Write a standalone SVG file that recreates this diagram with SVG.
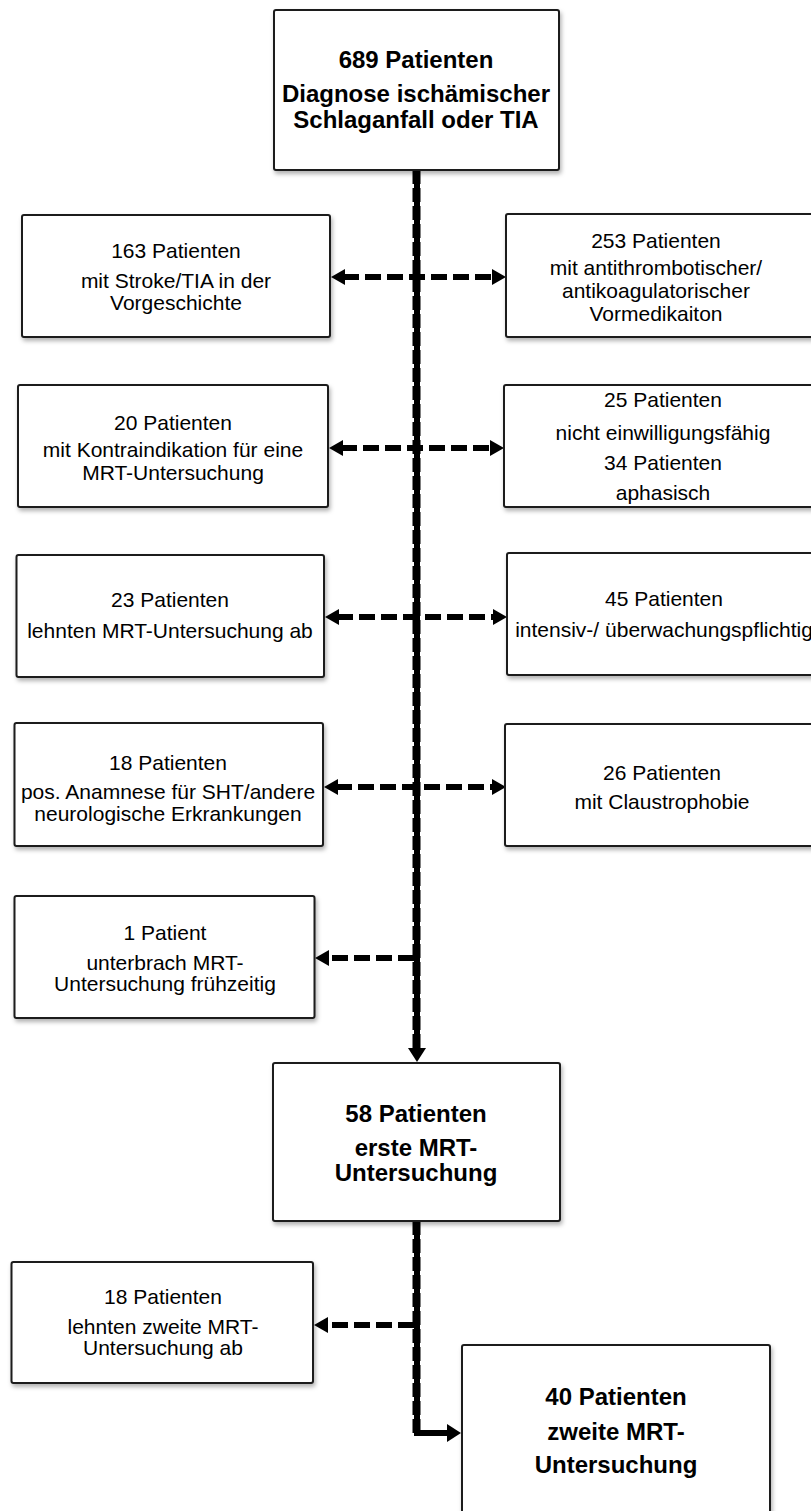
<svg xmlns="http://www.w3.org/2000/svg" width="811" height="1511" viewBox="0 0 811 1511">
<style>
.box{fill:#fff;stroke:#1a1a1a;stroke-width:2;filter:url(#sh)}
.t{font-family:"Liberation Sans",Arial,sans-serif;font-size:21px;fill:#000;text-anchor:middle}
.b{font-family:"Liberation Sans",Arial,sans-serif;font-size:24px;font-weight:bold;fill:#000;text-anchor:middle}
.dash{fill:none;stroke:#000;stroke-width:6;stroke-dasharray:16 6}
.main{fill:none;stroke:#000;stroke-width:6}
.mainD{fill:none;stroke:#000;stroke-width:8;stroke-dasharray:14 4}
</style>
<defs>
<filter id="sh" x="-10%" y="-10%" width="120%" height="130%">
<feDropShadow dx="1.5" dy="3" stdDeviation="2" flood-color="#000" flood-opacity="0.3"/>
</filter>
<marker id="ah" viewBox="0 0 14 16" refX="2" refY="8" markerWidth="14" markerHeight="16" markerUnits="userSpaceOnUse" orient="auto-start-reverse">
<path d="M0,0 L14,8 L0,16 z" fill="#000"/>
</marker>
<marker id="am" viewBox="0 0 14 18" refX="2" refY="9" markerWidth="14" markerHeight="18" markerUnits="userSpaceOnUse" orient="auto">
<path d="M0,0 L14,9 L0,18 z" fill="#000"/>
</marker>
</defs>

<g id="connectors">
<line class="mainD" x1="416.5" y1="170" x2="416.5" y2="1050"/>
<line class="main" x1="417" y1="170" x2="417" y2="1050" marker-end="url(#am)"/>
<path class="mainD" d="M416.5,1221 V1433"/>
<path class="main" d="M417,1221 V1433 H449" marker-end="url(#am)"/>
<line class="dash" x1="343" y1="277" x2="494" y2="277" marker-start="url(#ah)" marker-end="url(#ah)"/>
<line class="dash" x1="341" y1="448" x2="492" y2="448" marker-start="url(#ah)" marker-end="url(#ah)"/>
<line class="dash" x1="337" y1="617" x2="495" y2="617" marker-start="url(#ah)" marker-end="url(#ah)"/>
<line class="dash" x1="336" y1="787" x2="494" y2="787" marker-start="url(#ah)" marker-end="url(#ah)"/>
<line class="dash" x1="414" y1="958" x2="327" y2="958" marker-end="url(#ah)"/>
<line class="dash" x1="414" y1="1325" x2="326" y2="1325" marker-end="url(#ah)"/>
</g>

<g id="n_top">
<rect class="box" x="274" y="10" width="285" height="160" rx="2"/>
<text class="b" x="416" y="68">689 Patienten</text>
<text class="b" x="416" y="102">Diagnose ischämischer</text>
<text class="b" x="416" y="128">Schlaganfall oder TIA</text>
</g>

<g id="n_l1">
<rect class="box" x="22" y="215" width="308" height="122" rx="2"/>
<text class="t" x="176" y="258">163 Patienten</text>
<text class="t" x="176" y="288">mit Stroke/TIA in der</text>
<text class="t" x="176" y="310">Vorgeschichte</text>
</g>

<g id="n_r1">
<rect class="box" x="506" y="214" width="320" height="123" rx="2"/>
<text class="t" x="656" y="248">253 Patienten</text>
<text class="t" x="656" y="275">mit antithrombotischer/</text>
<text class="t" x="656" y="298">antikoagulatorischer</text>
<text class="t" x="656" y="321">Vormedikaiton</text>
</g>

<g id="n_l2">
<rect class="box" x="18" y="385" width="310" height="122" rx="2"/>
<text class="t" x="173" y="430">20 Patienten</text>
<text class="t" x="173" y="457">mit Kontraindikation für eine</text>
<text class="t" x="173" y="480">MRT-Untersuchung</text>
</g>

<g id="n_r2">
<rect class="box" x="504" y="385" width="322" height="122" rx="2"/>
<text class="t" x="663" y="407">25 Patienten</text>
<text class="t" x="663" y="440">nicht einwilligungsfähig</text>
<text class="t" x="663" y="470">34 Patienten</text>
<text class="t" x="663" y="500">aphasisch</text>
</g>

<g id="n_l3">
<rect class="box" x="16.5" y="555" width="307.5" height="122" rx="2"/>
<text class="t" x="170" y="607">23 Patienten</text>
<text class="t" x="170" y="638">lehnten MRT-Untersuchung ab</text>
</g>

<g id="n_r3">
<rect class="box" x="507" y="553" width="319" height="122" rx="2"/>
<text class="t" x="664" y="606">45 Patienten</text>
<text class="t" x="664" y="637">intensiv-/ überwachungspflichtig</text>
</g>

<g id="n_l4">
<rect class="box" x="14.5" y="723" width="308.5" height="123" rx="2"/>
<text class="t" x="168" y="770">18 Patienten</text>
<text class="t" x="168" y="799">pos. Anamnese für SHT/andere</text>
<text class="t" x="168" y="821">neurologische Erkrankungen</text>
</g>

<g id="n_r4">
<rect class="box" x="505" y="724" width="321" height="122" rx="2"/>
<text class="t" x="662" y="780">26 Patienten</text>
<text class="t" x="662" y="809">mit Claustrophobie</text>
</g>

<g id="n_l5">
<rect class="box" x="14.5" y="896" width="300" height="122" rx="2"/>
<text class="t" x="165" y="940">1 Patient</text>
<text class="t" x="165" y="970">unterbrach MRT-</text>
<text class="t" x="165" y="991">Untersuchung frühzeitig</text>
</g>

<g id="n_58">
<rect class="box" x="273" y="1063" width="287" height="158" rx="2"/>
<text class="b" x="416" y="1122">58 Patienten</text>
<text class="b" x="416" y="1156">erste MRT-</text>
<text class="b" x="416" y="1181">Untersuchung</text>
</g>

<g id="n_l6">
<rect class="box" x="11.5" y="1262" width="301.5" height="121" rx="2"/>
<text class="t" x="163" y="1304">18 Patienten</text>
<text class="t" x="163" y="1334">lehnten zweite MRT-</text>
<text class="t" x="163" y="1355">Untersuchung ab</text>
</g>

<g id="n_40">
<rect class="box" x="462" y="1345" width="308" height="190" rx="2"/>
<text class="b" x="616" y="1405">40 Patienten</text>
<text class="b" x="616" y="1440">zweite MRT-</text>
<text class="b" x="616" y="1473">Untersuchung</text>
</g>
</svg>
